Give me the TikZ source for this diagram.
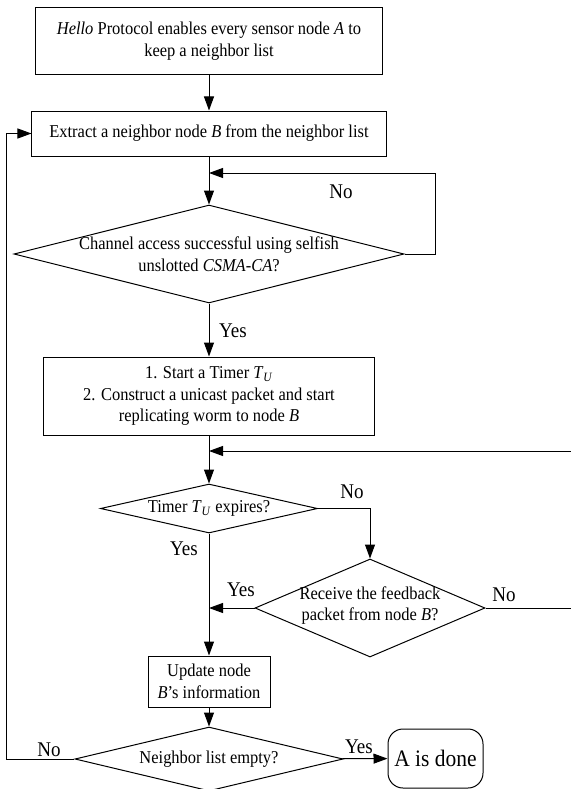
\documentclass[tikz,border=0pt]{standalone}
\usepackage{fontspec}
\setmainfont{Liberation Serif}[FakeStretch=0.91]
\usetikzlibrary{shapes.geometric}
\usetikzlibrary{arrows.meta}
\tikzstyle{processo} = [rectangle, draw=black, line width=1bp, align=center, font=\fontsize{18.1bp}{21.5bp}\selectfont]
\tikzstyle{decisione} = [diamond, draw=black, line width=1bp, inner sep=0pt]
\tikzstyle{testo} = [align=center, inner sep=0pt, font=\fontsize{18.1bp}{21.5bp}\selectfont]
\tikzstyle{termine} = [rectangle, rounded corners=15bp, draw=black, line width=1bp, font=\fontsize{23.6bp}{26bp}\selectfont]
\tikzstyle{risposta} = [inner sep=0pt, font=\fontsize{20.9bp}{24bp}\selectfont]
\tikzstyle{freccia} = [line width=1bp, -{Triangle[length=14bp,width=10bp]}]

\begin{document}
\begin{tikzpicture}[x=1bp,y=-1bp]
						\useasboundingbox (0,0) rectangle (571,789);
						\node (hello) at (209,41) [processo, minimum width=346bp, minimum height=66bp] {\textit{Hello} Protocol enables every sensor node \textit{A} to\\keep a neighbor list};
						\node (estrai) at (209,133.5) [processo, minimum width=354bp, minimum height=45bp] {Extract a neighbor node \textit{B} from the neighbor list};
						\node (canale) at (209,254) [decisione, minimum width=390bp, minimum height=98bp] {};
						\node (canaletxt) at (209,254.5) [testo] {Channel access successful using selfish\\unslotted \textit{CSMA-CA}?};
						\node (avvio) at (209,396) [processo, minimum width=331bp, minimum height=78bp] {1. Start a Timer \textit{T}\textsubscript{\textit{U}}\\2. Construct a unicast packet and start\\replicating worm to node \textit{B}};
						\node (scadenza) at (209,508.5) [decisione, minimum width=217bp, minimum height=49bp] {};
						\node (scadenzatxt) at (209,508.5) [testo] {Timer \textit{T}\textsubscript{\textit{U}} expires?};
						\node (ricezione) at (370,608) [decisione, minimum width=230bp, minimum height=98bp] {};
						\node (ricezionetxt) at (370,605.5) [testo] {Receive the feedback\\packet from node \textit{B}?};
						\node (aggiorna) at (209,681.5) [processo, minimum width=122bp, minimum height=51bp] {Update node\\\textit{B}’s information};
						\node (vuota) at (209,759) [decisione, minimum width=268bp, minimum height=64bp] {};
						\node (vuotatxt) at (209,759) [testo] {Neighbor list empty?};
						\node (fine) at (435.5,758.5) [termine, minimum width=95bp, minimum height=59bp] {A is done};
						\coordinate (j1) at (209,173);
						\coordinate (j2) at (209,451);
						\coordinate (j3) at (209,608);
						\coordinate (ritorno) at (585,608);
						\coordinate (sinistra) at (6,759);
						\node (no1) at (341,192) [risposta] {No};
						\node (si1) at (233,331) [risposta] {Yes};
						\node (no2) at (352,492) [risposta] {No};
						\node (si2) at (184,549) [risposta] {Yes};
						\node (si3) at (241,590) [risposta] {Yes};
						\node (no3) at (504,595) [risposta] {No};
						\node (no4) at (49,750) [risposta] {No};
						\node (si4) at (359,747) [risposta] {Yes};
						\draw [freccia] (hello) -- (estrai);
						\draw [freccia] (estrai) -- (canale);
						\draw [freccia] (canale.east) -- ++(31,0) |- (j1);
						\draw [freccia] (canale) -- (avvio);
						\draw [freccia] (avvio) -- (scadenza);
						\draw [freccia] (ricezione.east) -- (ritorno) |- (j2);
						\draw [freccia] (scadenza.east) -| (ricezione.north);
						\draw [freccia] (scadenza) -- (aggiorna);
						\draw [freccia] (ricezione.west) -- (j3);
						\draw [freccia] (aggiorna) -- (vuota);
						\draw [freccia] (vuota.west) -- (sinistra) |- (estrai.west);
						\draw [freccia] (vuota) -- (fine);
					\end{tikzpicture}
\end{document}
